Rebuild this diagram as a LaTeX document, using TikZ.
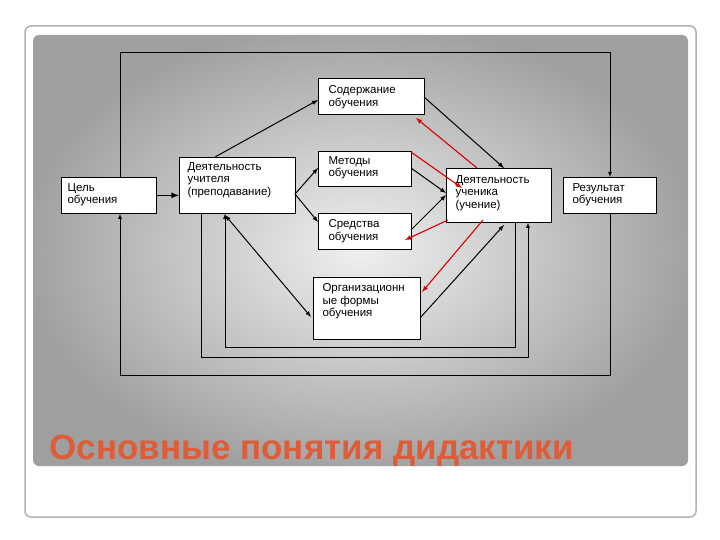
\documentclass[tikz,border=0pt]{standalone}
\usepackage{fontspec}
\setmainfont{Liberation Sans}
\definecolor{ttl}{RGB}{222,92,56}
\begin{document}
\begin{tikzpicture}[x=1pt,y=-1pt,
  bx/.style={draw=black,fill=white,line width=0.7pt,inner sep=0pt},
  ln/.style={line width=1pt,-latex},
  rd/.style={line width=1.1pt,red!85!black,-latex},
  tx/.style={font=\fontsize{11.5}{12.5}\selectfont,align=left,anchor=north west}]
\useasboundingbox (0,0) rectangle (720,540);
\fill[white] (0,0) rectangle (720,540);
\draw[gray!60,line width=1.5pt,rounded corners=6] (25,26) rectangle (696,517);
\begin{scope}
\clip[rounded corners=6] (33,35) rectangle (688,466);
\shade[inner color=gray!12,outer color=gray!75] (20,20) rectangle (700,480);
\end{scope}
% boxes
\node[bx,minimum width=95pt,minimum height=36pt,anchor=north west] (c) at (61,177) {};
\node[tx] at (64,180) {Цель\\обучения};
\node[bx,minimum width=116pt,minimum height=56pt,anchor=north west] (t) at (179,157) {};
\node[tx] at (184,159) {Деятельность\\учителя\\(преподавание)};
\node[bx,minimum width=106pt,minimum height=36pt,anchor=north west] (s) at (318,78) {};
\node[tx] at (325,82) {Содержание\\обучения};
\node[bx,minimum width=93pt,minimum height=35pt,anchor=north west] (m) at (318,151) {};
\node[tx] at (325,153) {Методы\\обучения};
\node[bx,minimum width=93pt,minimum height=36pt,anchor=north west] (sr) at (318,213) {};
\node[tx] at (325,216) {Средства\\обучения};
\node[bx,minimum width=107pt,minimum height=62pt,anchor=north west] (o) at (313,277) {};
\node[tx] at (319,280) {Организационн\\ые формы\\обучения};
\node[bx,minimum width=105pt,minimum height=54pt,anchor=north west] (u) at (446,168) {};
\node[tx] at (452,172) {Деятельность\\ученика\\(учение)};
\node[bx,minimum width=93pt,minimum height=36pt,anchor=north west] (r) at (563,177) {};
\node[tx] at (569,180) {Результат\\обучения};
% outer loops
\draw[ln,line width=0.8pt] (c.north -| 120,0) -- (120,52) -- (610,52) -- (r.north -| 610,0);
\draw[ln,line width=0.8pt] (r.south -| 610,0) -- (610,375) -- (120,375) -- (c.south -| 120,0);
\draw[ln,line width=0.8pt] (t.south -| 201,0) -- (201,357) -- (528,357) -- (u.south -| 528,0);
\draw[ln,line width=0.8pt] (u.south -| 515,0) -- (515,347) -- (225,347) -- (t.south -| 225,0);
% arrows
\draw[ln,line width=1.6pt] (c.east) -- (t.west |- c.east);
\draw[ln] (215,157) -- (318,100);
\draw[ln] (295,194) -- (318,168);
\draw[ln] (295,194) -- (318,222);
\draw[ln,latex-latex] (225,215) -- (311,317);
\draw[ln] (424,97) -- (504,168);
\draw[ln] (411,168) -- (446,193);
\draw[ln] (411,230) -- (446,195);
\draw[ln] (420,318) -- (504,225);
% red
\draw[rd] (477,168) -- (416,118);
\draw[rd] (411,152) -- (462,188);
\draw[rd] (448,220) -- (405,240);
\draw[rd] (483,220) -- (422,292);
\node[anchor=west,font=\fontsize{35}{37}\selectfont\bfseries,text=ttl] (ti) at (46,451) {Основные понятия дидактики};
\end{tikzpicture}
\end{document}
